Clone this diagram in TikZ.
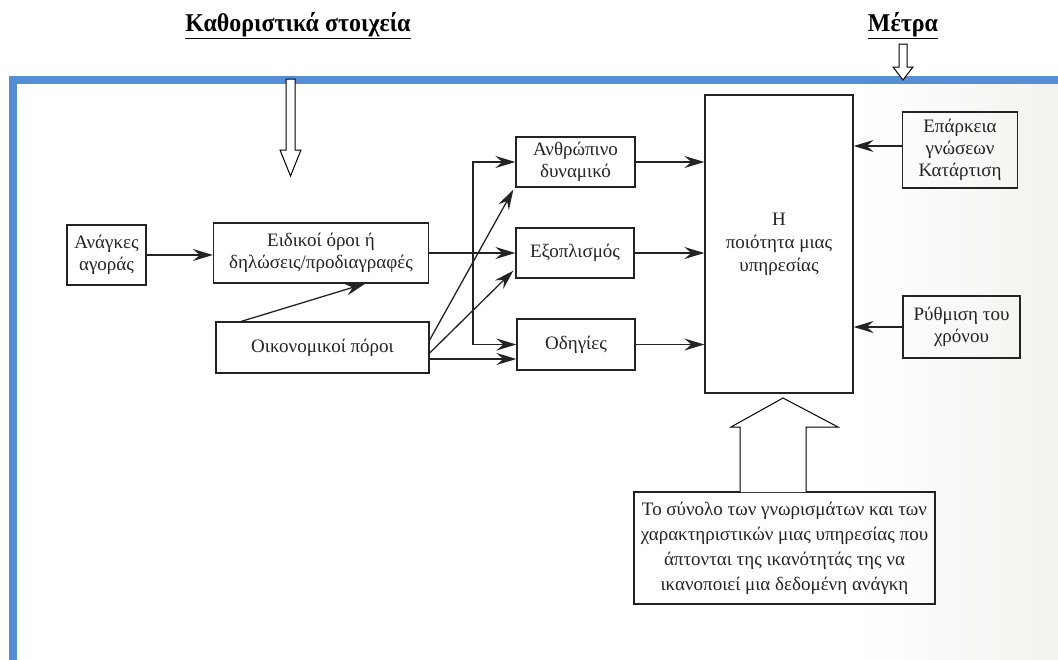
\documentclass[tikz,border=0pt]{standalone}
\usepackage{fontspec}
\setmainfont{Liberation Serif}
\usetikzlibrary{arrows.meta}
\definecolor{frameblue}{RGB}{85,142,213}
\definecolor{ink}{RGB}{35,35,35}
\definecolor{paper}{RGB}{242,242,238}
\newcommand{\headtext}[1]{\underline{\scalebox{1.14}[1.22]{#1}}}
\begin{document}
\begin{tikzpicture}[x=1pt,y=-1pt,
  box/.style={draw=ink,line width=1.3pt,align=center,inner sep=0pt,text=ink,
              font=\fontsize{19}{22}\selectfont},
  link/.style={draw=ink,line width=1.3pt,-{Stealth[length=20pt,width=12pt,inset=7pt]}},
  hollow/.style={draw=black,line width=1pt,fill=white,line join=miter},
  title/.style={font=\bfseries\fontsize{21}{24}\selectfont}]
\useasboundingbox (0,0) rectangle (1058,659);

% scanned page tint and the blue frame
\begin{scope}
  \clip (0,0) rectangle (1058,659);
  \shade[left color=white,right color=paper] (860,84) rectangle (1058,659);
  \draw[frameblue,line width=8pt] (13,80) rectangle (1075,664);
\end{scope}

% headings
\node[title] (t1) at (298,26) {\headtext{Καθοριστικά στοιχεία}};
\node[title] (t2) at (903,26) {\headtext{Μέτρα}};

% hollow arrows under the headings
\draw[hollow] (286,79) -- (286,150) -- (280,150) -- (290.5,176) -- (301,150)
  -- (295,150) -- (295,79) -- cycle;
\draw[hollow] (899,44) -- (899,67) -- (893,67) -- (903,80) -- (913,67)
  -- (907,67) -- (907,44) -- cycle;

% boxes
\node[box,minimum width=79pt,minimum height=60pt] (anag) at (106.5,255) {Ανάγκες\\αγοράς};
\node[box,minimum width=215pt,minimum height=60pt] (eid) at (321,253) {Ειδικοί όροι ή\\δηλώσεις/προδιαγραφές};
\node[box,minimum width=213pt,minimum height=51pt] (oik) at (322.5,347.5) {Οικονομικοί πόροι};
\node[box,minimum width=119pt,minimum height=50pt] (anth) at (575.5,162) {Ανθρώπινο\\δυναμικό};
\node[box,minimum width=118pt,minimum height=50pt] (exo) at (575,253) {Εξοπλισμός};
\node[box,minimum width=118pt,minimum height=51pt] (odi) at (576,344.5) {Οδηγίες};
\node[box,minimum width=148pt,minimum height=298pt,font=\fontsize{19}{23}\selectfont] (qual) at (779,244) {Η\\ποιότητα μιας\\υπηρεσίας};
\node[box,minimum width=115pt,minimum height=76pt] (epa) at (960,150) {Επάρκεια\\γνώσεων\\Κατάρτιση};
\node[box,minimum width=117pt,minimum height=62pt] (ryth) at (961.5,327) {Ρύθμιση του\\χρόνου};
\node[box,minimum width=301pt,minimum height=112pt,font=\fontsize{19}{25}\selectfont] (syn) at (784.5,548)
  {Το σύνολο των γνωρισμάτων και των\\χαρακτηριστικών μιας υπηρεσίας που\\άπτονται της ικανότητάς της να\\ικανοποιεί μια δεδομένη ανάγκη};

% hollow arrow from the definition up to the quality box
\draw[hollow] (740,492) -- (740,427) -- (731,427) -- (783,398) -- (838,427)
  -- (806,427) -- (806,492);

% connectors
\coordinate (br) at (473,253);
\draw[link] (anag.east) -- (eid.west |- anag.east);
\draw[link] ([xshift=26pt]oik.north west) -- ([xshift=-64pt]eid.south east);
\draw[link] (eid.east) -- (exo.west |- eid.east);
\draw[link] (br) |- (anth.west);
\draw[link] (br) |- (odi.west);
\draw[link] ([yshift=7.5pt]oik.east) -- ([xshift=-2pt,yshift=-2pt]anth.south west);
\draw[link] ([yshift=-5.5pt]oik.east) -- ([xshift=-2pt,yshift=8pt]exo.south west);
\draw[link] ([yshift=-11.5pt]oik.east) -- ([yshift=-11.5pt]oik.east -| odi.west);
\draw[link] (anth.east) -- (anth.east -| qual.west);
\draw[link] (exo.east) -- (exo.east -| qual.west);
\draw[link] (odi.east) -- (odi.east -| qual.west);
\draw[link] ([yshift=4pt]epa.west) -- ([yshift=4pt]epa.west -| qual.east);
\draw[link] (ryth.west) -- (ryth.west -| qual.east);
\end{tikzpicture}
\end{document}
